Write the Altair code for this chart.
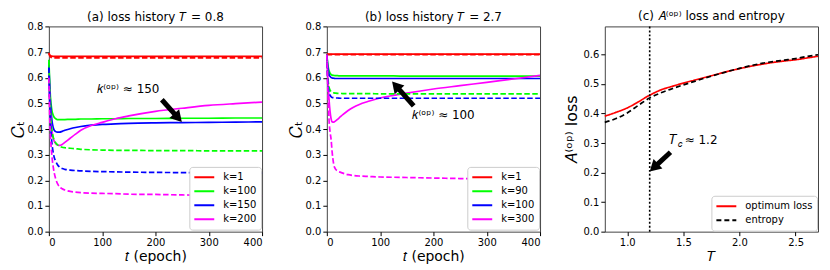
import math
import altair as alt
import pandas as pd

# ---------------- data ----------------
EPOCHS = [0, 2, 4, 6, 8, 10, 13, 16, 20, 25, 30, 40, 50, 60, 80, 100, 125, 150, 200, 250, 300, 350, 400]

# panel (a): T = 0.8
A_LABELS = ["k=1", "k=100", "k=150", "k=200"]
A_K1_SOLID = [0.697, 0.688, 0.685, 0.684, 0.683, 0.683, 0.683, 0.683, 0.683, 0.683, 0.683, 0.683,
              0.683, 0.683, 0.683, 0.683, 0.683, 0.683, 0.683, 0.683, 0.683, 0.683, 0.683]
A_K1_DASH = [0.695, 0.684, 0.680, 0.678, 0.677, 0.677, 0.677, 0.677, 0.677, 0.677, 0.677, 0.677,
             0.677, 0.677, 0.677, 0.677, 0.677, 0.677, 0.677, 0.677, 0.677, 0.677, 0.677]
A_K100_SOLID = [0.670, 0.560, 0.500, 0.470, 0.455, 0.446, 0.440, 0.437, 0.437, 0.437, 0.437, 0.438,
                0.438, 0.439, 0.439, 0.440, 0.440, 0.441, 0.441, 0.442, 0.442, 0.443, 0.443]
A_K100_DASH = [0.660, 0.500, 0.430, 0.390, 0.370, 0.356, 0.346, 0.339, 0.333, 0.329, 0.327, 0.325,
               0.323, 0.321, 0.319, 0.318, 0.317, 0.317, 0.316, 0.316, 0.315, 0.315, 0.315]
A_K150_SOLID = [0.650, 0.540, 0.470, 0.430, 0.407, 0.396, 0.390, 0.388, 0.388, 0.391, 0.395, 0.401,
                0.406, 0.410, 0.415, 0.418, 0.420, 0.422, 0.424, 0.425, 0.426, 0.427, 0.428]
A_K150_DASH = [0.640, 0.480, 0.390, 0.340, 0.310, 0.290, 0.274, 0.262, 0.252, 0.246, 0.243, 0.240,
               0.238, 0.237, 0.235, 0.234, 0.233, 0.232, 0.231, 0.230, 0.229, 0.229, 0.228]
A_K200_SOLID = [0.620, 0.500, 0.430, 0.390, 0.366, 0.353, 0.343, 0.338, 0.336, 0.340, 0.348, 0.364,
                0.380, 0.395, 0.414, 0.426, 0.440, 0.451, 0.469, 0.481, 0.492, 0.499, 0.505]
A_K200_DASH = [0.600, 0.420, 0.340, 0.290, 0.255, 0.230, 0.205, 0.188, 0.175, 0.167, 0.162, 0.157,
               0.154, 0.152, 0.150, 0.149, 0.148, 0.146, 0.145, 0.143, 0.142, 0.141, 0.140]

# panel (b): T = 2.7
B_LABELS = ["k=1", "k=90", "k=100", "k=300"]
B_K1_SOLID = [0.694, 0.692, 0.692, 0.692, 0.692, 0.692, 0.692, 0.692, 0.692, 0.692, 0.692, 0.692,
              0.692, 0.692, 0.692, 0.692, 0.692, 0.692, 0.692, 0.692, 0.692, 0.692, 0.692]
B_K1_DASH = [0.692, 0.690, 0.690, 0.690, 0.690, 0.690, 0.690, 0.690, 0.690, 0.690, 0.690, 0.690,
             0.690, 0.690, 0.690, 0.690, 0.690, 0.690, 0.690, 0.690, 0.690, 0.690, 0.690]
B_K90_SOLID = [0.690, 0.650, 0.628, 0.618, 0.613, 0.610, 0.609, 0.608, 0.608, 0.607, 0.607, 0.607,
               0.607, 0.607, 0.607, 0.607, 0.607, 0.606, 0.606, 0.606, 0.606, 0.606, 0.606]
B_K90_DASH = [0.690, 0.600, 0.565, 0.552, 0.546, 0.543, 0.541, 0.540, 0.539, 0.539, 0.538, 0.538,
              0.538, 0.538, 0.538, 0.537, 0.537, 0.537, 0.537, 0.537, 0.537, 0.537, 0.537]
B_K100_SOLID = [0.690, 0.640, 0.615, 0.605, 0.601, 0.599, 0.598, 0.597, 0.597, 0.597, 0.597, 0.597,
                0.597, 0.597, 0.597, 0.597, 0.597, 0.597, 0.597, 0.597, 0.597, 0.597, 0.597]
B_K100_DASH = [0.690, 0.580, 0.545, 0.532, 0.526, 0.523, 0.522, 0.521, 0.521, 0.520, 0.520, 0.520,
               0.520, 0.520, 0.520, 0.520, 0.520, 0.520, 0.520, 0.520, 0.520, 0.520, 0.520]
B_K300_SOLID = [0.690, 0.600, 0.520, 0.470, 0.440, 0.428, 0.427, 0.431, 0.438, 0.447, 0.456, 0.472,
                0.485, 0.495, 0.509, 0.521, 0.531, 0.540, 0.556, 0.569, 0.582, 0.595, 0.609]
B_K300_DASH = [0.690, 0.550, 0.440, 0.390, 0.360, 0.310, 0.262, 0.245, 0.237, 0.232, 0.228, 0.222,
               0.219, 0.217, 0.215, 0.213, 0.212, 0.211, 0.209, 0.207, 0.205, 0.204, 0.203]

K_COLORS = ["#ff0000", "#00ff00", "#0000ff", "#ff00ff"]

# panel (c)
TEMPS = [0.8, 0.9, 1.0, 1.1, 1.2, 1.3, 1.4, 1.5, 1.6, 1.7, 1.8, 1.9, 2.0, 2.1, 2.2, 2.3, 2.4, 2.5, 2.6, 2.7]
OPT_LOSS = [0.391, 0.404, 0.419, 0.440, 0.462, 0.480, 0.492, 0.503, 0.513, 0.523, 0.533, 0.543,
            0.552, 0.560, 0.567, 0.573, 0.578, 0.582, 0.588, 0.594]
ENTROPY = [0.370, 0.383, 0.402, 0.428, 0.453, 0.470, 0.484, 0.497, 0.509, 0.521, 0.532, 0.543,
           0.553, 0.562, 0.570, 0.576, 0.581, 0.586, 0.593, 0.599]
C_LABELS = ["optimum loss", "entropy"]
T_CRIT = 1.2

# annotations: (tail, tip) in data units, text position
A_ARROW = [(212.0, 0.514), (250.0, 0.426)]
A_TEXT = (149.0, 0.555, "𝑘⁽ᵒᵖ⁾ ≈ 150")
B_ARROW = [(163.0, 0.490), (121.0, 0.589)]
B_TEXT = (219.0, 0.453, "𝑘⁽ᵒᵖ⁾ ≈ 100")
C_ARROW = [(1.385, 0.269), (1.20, 0.204)]
C_TEXT = (1.37, 0.309)

W, H = 214, 206
FONT = "DejaVu Sans"


def legend(x, y):
    return alt.Legend(title=None, orient="none", legendX=x, legendY=y,
                      symbolType="stroke", symbolSize=400, symbolStrokeWidth=2,
                      labelFontSize=10, labelFont=FONT, labelColor="black",
                      fillColor="white", strokeColor="#cccccc", padding=4,
                      cornerRadius=3, rowPadding=1, labelOffset=8, clipHeight=13)


def arrow_layers(arrow, xenc, yenc, xdom, ydom):
    (x0, y0), (x1, y1) = arrow
    hx = x1 - 0.2 * (x1 - x0)
    hy = y1 - 0.2 * (y1 - y0)
    dxp = (x1 - x0) * W / (xdom[1] - xdom[0])
    dyp = -(y1 - y0) * H / (ydom[1] - ydom[0])
    ang = math.degrees(math.atan2(dxp, -dyp)) % 360
    df = pd.DataFrame([{"px": x0, "py": y0, "px2": hx, "py2": hy}])
    shaft = alt.Chart(df).mark_rule(color="black", strokeWidth=5).encode(
        x=xenc("px:Q"), y=yenc("py:Q"), x2="px2:Q", y2="py2:Q")
    head = alt.Chart(df).mark_point(shape="triangle-up", filled=True, size=170, angle=ang,
                                     color="black", opacity=1, strokeWidth=0).encode(
        x=xenc("px2:Q"), y=yenc("py2:Q"))
    return [shaft, head]


def loss_panel(title, labels, solids, dashes, arrow, text):
    rows = []
    for lab, s, d in zip(labels, solids, dashes):
        for t, v in zip(EPOCHS, s):
            rows.append({"t": t, "v": v, "k": lab, "kind": "solid"})
        for t, v in zip(EPOCHS, d):
            rows.append({"t": t, "v": v, "k": lab, "kind": "dash"})
    df = pd.DataFrame(rows)
    xdom, ydom = [0, 400], [0, 0.8]

    def xenc(f):
        return alt.X(f, scale=alt.Scale(domain=xdom, nice=False),
                     axis=alt.Axis(values=[0, 100, 200, 300, 400], format="d", title="𝑡 (epoch)"))

    def yenc(f):
        return alt.Y(f, scale=alt.Scale(domain=ydom, nice=False),
                     axis=alt.Axis(values=[0, 0.1, 0.2, 0.3, 0.4, 0.5, 0.6, 0.7, 0.8], format=".1f",
                                   title="𝐶ₜ", titleFontSize=17, titlePadding=0))

    cscale = alt.Scale(domain=labels, range=K_COLORS)
    solid = alt.Chart(df).transform_filter(alt.datum.kind == "solid").mark_line(
        strokeWidth=1.7, interpolate="monotone").encode(
        x=xenc("t:Q"), y=yenc("v:Q"),
        color=alt.Color("k:N", scale=cscale, sort=labels, legend=legend(141, 141)))
    dashed = alt.Chart(df).transform_filter(alt.datum.kind == "dash").mark_line(
        strokeWidth=1.7, strokeDash=[5.5, 2.5], interpolate="monotone").encode(
        x=xenc("t:Q"), y=yenc("v:Q"), color=alt.Color("k:N", scale=cscale, sort=labels, legend=None))
    tdf = pd.DataFrame([{"px": text[0], "py": text[1], "label": text[2]}])
    txt = alt.Chart(tdf).mark_text(font=FONT, fontSize=12, align="center", baseline="middle",
                                   color="black").encode(
        x=xenc("px:Q"), y=yenc("py:Q"), text="label:N")
    layers = [solid, dashed] + arrow_layers(arrow, xenc, yenc, xdom, ydom) + [txt]
    return alt.layer(*layers).resolve_scale(color="independent").properties(
        width=W, height=H, title=alt.TitleParams(title, offset=-3))


pa = loss_panel("(a) loss history 𝑇 = 0.8", A_LABELS,
                [A_K1_SOLID, A_K100_SOLID, A_K150_SOLID, A_K200_SOLID],
                [A_K1_DASH, A_K100_DASH, A_K150_DASH, A_K200_DASH], A_ARROW, A_TEXT)
pb = loss_panel("(b) loss history 𝑇 = 2.7", B_LABELS,
                [B_K1_SOLID, B_K90_SOLID, B_K100_SOLID, B_K300_SOLID],
                [B_K1_DASH, B_K90_DASH, B_K100_DASH, B_K300_DASH], B_ARROW, B_TEXT)

# panel c
rows = []
for T, v in zip(TEMPS, OPT_LOSS):
    rows.append({"T": T, "v": v, "name": "optimum loss"})
for T, v in zip(TEMPS, ENTROPY):
    rows.append({"T": T, "v": v, "name": "entropy"})
cdf = pd.DataFrame(rows)
cx_dom, cy_dom = [0.8, 2.7], [0, 0.695]


def cxenc(f):
    return alt.X(f, scale=alt.Scale(domain=cx_dom, nice=False),
                 axis=alt.Axis(values=[1.0, 1.5, 2.0, 2.5], format=".1f", title="𝑇"))


def cyenc(f):
    return alt.Y(f, scale=alt.Scale(domain=cy_dom, nice=False),
                 axis=alt.Axis(values=[0, 0.1, 0.2, 0.3, 0.4, 0.5, 0.6], format=".1f",
                               title="𝐴⁽ᵒᵖ⁾ loss", titleFontSize=16, titlePadding=3))


c_leg = legend(107, 170)
c_lines = alt.Chart(cdf).mark_line(strokeWidth=1.7, interpolate="monotone").encode(
    x=cxenc("T:Q"), y=cyenc("v:Q"),
    color=alt.Color("name:N", scale=alt.Scale(domain=C_LABELS, range=["#ff0000", "#000000"]),
                    sort=C_LABELS, legend=c_leg),
    strokeDash=alt.StrokeDash("name:N", scale=alt.Scale(domain=C_LABELS, range=[[1, 0], [5, 3]]),
                              sort=C_LABELS, legend=c_leg))
vline = alt.Chart(pd.DataFrame([{"T": T_CRIT}])).mark_rule(
    color="black", strokeWidth=1.6, strokeDash=[2, 2]).encode(x=cxenc("T:Q"))
tc = pd.DataFrame([{"px": C_TEXT[0], "py": C_TEXT[1]}])
tbase = alt.Chart(tc).encode(x=cxenc("px:Q"), y=cyenc("py:Q"))
t1 = tbase.mark_text(font=FONT, fontSize=13, align="left", baseline="middle", text="𝑇")
t2 = tbase.mark_text(font=FONT, fontSize=9, align="left", baseline="middle", text="𝑐", dx=9, dy=4)
t3 = tbase.mark_text(font=FONT, fontSize=12, align="left", baseline="middle", text="≈ 1.2", dx=16)
pc = alt.layer(c_lines, vline, *arrow_layers(C_ARROW, cxenc, cyenc, cx_dom, cy_dom), t1, t2, t3).properties(
    width=W, height=H, title=alt.TitleParams("(c) 𝐴⁽ᵒᵖ⁾ loss and entropy", offset=3))

chart = alt.hconcat(pa, pb, pc, spacing=65, bounds="flush").resolve_scale(
    color="independent", strokeDash="independent").resolve_legend(
    color="independent", strokeDash="independent").configure_axis(
    grid=False, domain=False, labelFont=FONT, labelFontSize=10, labelColor="black",
    titleFont=FONT, titleFontWeight="normal", titleColor="black", titleFontSize=14,
    tickColor="black", tickSize=4, labelPadding=2, titlePadding=4).configure_axisX(
    titlePadding=2).configure_view(stroke="#444444", strokeWidth=1).configure_title(
    font=FONT, fontSize=12, fontWeight="normal", color="black", frame="group",
    anchor="middle").properties(padding={"left": 0, "top": 0, "right": 0, "bottom": 0})

chart.save("out.html", embed_options={"renderer": "svg", "actions": False})
